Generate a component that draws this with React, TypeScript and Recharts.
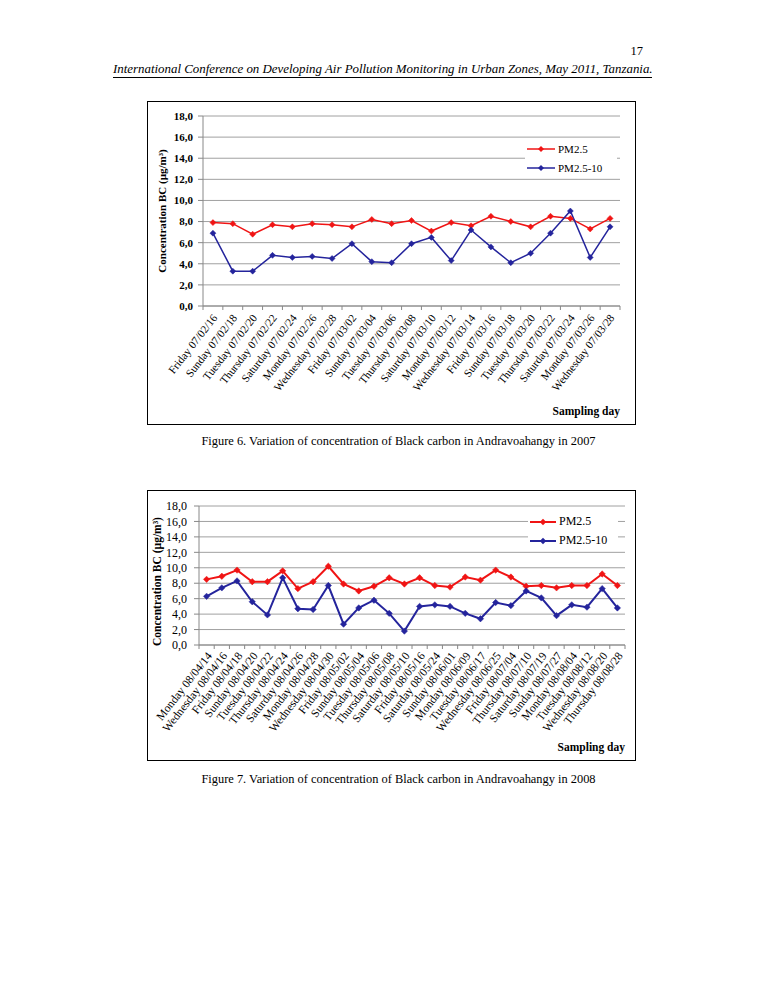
import React from 'react';
import { LineChart, Line, XAxis, YAxis, CartesianGrid, Legend, Label } from 'recharts';

const days2007 = [
  'Friday 07/02/16', 'Sunday 07/02/18', 'Tuesday 07/02/20', 'Thursday 07/02/22', 'Saturday 07/02/24',
  'Monday 07/02/26', 'Wednesday 07/02/28', 'Friday 07/03/02', 'Sunday 07/03/04', 'Tuesday 07/03/06',
  'Thursday 07/03/08', 'Saturday 07/03/10', 'Monday 07/03/12', 'Wednesday 07/03/14', 'Friday 07/03/16',
  'Sunday 07/03/18', 'Tuesday 07/03/20', 'Thursday 07/03/22', 'Saturday 07/03/24', 'Monday 07/03/26',
  'Wednesday 07/03/28',
];
const pm25_2007 = [7.9, 7.8, 6.8, 7.7, 7.5, 7.8, 7.7, 7.5, 8.2, 7.8, 8.1, 7.1, 7.9, 7.6, 8.5, 8.0, 7.5, 8.5, 8.3, 7.3, 8.3];
const pm2510_2007 = [6.9, 3.3, 3.3, 4.8, 4.6, 4.7, 4.5, 5.9, 4.2, 4.1, 5.9, 6.5, 4.3, 7.2, 5.6, 4.1, 5.0, 6.9, 9.0, 4.6, 7.5];

const days2008 = [
  'Monday 08/04/14', 'Wednesday 08/04/16', 'Friday 08/04/18', 'Sunday 08/04/20', 'Tuesday 08/04/22',
  'Thursday 08/04/24', 'Saturday 08/04/26', 'Monday 08/04/28', 'Wednesday 08/04/30', 'Friday 08/05/02',
  'Sunday 08/05/04', 'Tuesday 08/05/06', 'Thursday 08/05/08', 'Saturday 08/05/10', 'Friday 08/05/16',
  'Saturday 08/05/24', 'Sunday 08/06/01', 'Monday 08/06/09', 'Tuesday 08/06/17', 'Wednesday 08/06/25',
  'Friday 08/07/04', 'Thursday 08/07/10', 'Saturday 08/07/19', 'Sunday 08/07/27', 'Monday 08/08/04',
  'Tuesday 08/08/12', 'Wednesday 08/08/20', 'Thursday 08/08/28',
];
const pm25_2008 = [8.5, 8.9, 9.7, 8.2, 8.2, 9.6, 7.3, 8.2, 10.2, 7.9, 7.0, 7.6, 8.7, 7.9, 8.7, 7.7, 7.5, 8.8, 8.4, 9.7, 8.8, 7.6, 7.7, 7.4, 7.7, 7.7, 9.2, 7.7];
const pm2510_2008 = [6.3, 7.4, 8.3, 5.6, 3.9, 8.7, 4.7, 4.6, 7.7, 2.7, 4.8, 5.8, 4.1, 1.8, 5.0, 5.2, 5.0, 4.1, 3.4, 5.5, 5.1, 7.0, 6.1, 3.8, 5.2, 4.9, 7.3, 4.8];

const yTicks = [0, 2, 4, 6, 8, 10, 12, 14, 16, 18];
const seriesNames = ['PM2.5', 'PM2.5-10'];
const yTitle = 'Concentration BC (µg/m³)';
const xTitle = 'Sampling day';

const RED = '#f01414';
const BLUE = '#24249c';
const FONT = '"Liberation Serif", "Times New Roman", serif';

const data2007 = days2007.map((d, i) => ({ day: d, pm25: pm25_2007[i], pm2510: pm2510_2007[i] }));
const data2008 = days2008.map((d, i) => ({ day: d, pm25: pm25_2008[i], pm2510: pm2510_2008[i] }));

const fmt = (v: number) => v.toFixed(1).replace('.', ',');

const makeDiamond = (color: string, r: number) => (props: any) => {
  const { cx, cy, index } = props;
  if (cx == null || cy == null) return <g key={`n-${index}`} />;
  return (
    <polygon
      key={`d-${index}`}
      points={`${cx},${cy - r} ${cx + r},${cy} ${cx},${cy + r} ${cx - r},${cy}`}
      fill={color}
      stroke={color}
      strokeWidth={0.5}
    />
  );
};

const makeXTick = (n: number, plotW: number, fontSize: number, dx: number, dy: number) => (props: any) => {
  const { x, y, payload, index } = props;
  const bw = plotW / n;
  return (
    <g>
      <line x1={x - bw / 2} y1={y} x2={x - bw / 2} y2={y + 4} stroke="#888" />
      {index === n - 1 && <line x1={x + bw / 2} y1={y} x2={x + bw / 2} y2={y + 4} stroke="#888" />}
      <text
        transform={`translate(${x + dx},${y + dy}) rotate(-52)`}
        textAnchor="end"
        fontSize={fontSize}
        fontFamily={FONT}
        fill="#000"
      >
        {payload.value}
      </text>
    </g>
  );
};

const makeLegend = (fontSize: number, lineW: number, r: number, stroke: number, rowGap: number) => () => (
  <div style={{ background: '#fff', fontFamily: FONT, fontSize, color: '#000' }}>
    {[RED, BLUE].map((c, i) => (
      <div key={i} style={{ display: 'flex', alignItems: 'center', height: rowGap }}>
        <svg width={lineW + 4} height={12} style={{ display: 'block' }}>
          <line x1={2} y1={6} x2={lineW + 2} y2={6} stroke={c} strokeWidth={stroke} />
          <polygon points={`${lineW / 2 + 2},${6 - r} ${lineW / 2 + 2 + r},6 ${lineW / 2 + 2},${6 + r} ${lineW / 2 + 2 - r},6`} fill={c} />
        </svg>
        <span style={{ marginLeft: 1 }}>{seriesNames[i]}</span>
      </div>
    ))}
  </div>
);

type ChartCfg = {
  data: any[];
  width: number;
  height: number;
  margin: { top: number; right: number; left: number; bottom: number };
  yAxisW: number;
  xAxisH: number;
  tickFont: number;
  tickBold: boolean;
  tickMargin: number;
  xFont: number;
  xdx: number;
  xdy: number;
  yTitleX: number;
  yTitleDY: number;
  yTitleFont: number;
  xTitleDX: number;
  xTitleY: number;
  legendPos: { left: number; top: number; width: number };
  legendFont: number;
  legendLineW: number;
  legendRow: number;
  strokeW: number;
  dotR: number;
};

const Chart = ({ cfg }: { cfg: ChartCfg }) => {
  const plotW = cfg.width - cfg.margin.left - cfg.margin.right - cfg.yAxisW;
  const n = cfg.data.length;
  const half = plotW / n / 2;
  return (
    <LineChart width={cfg.width} height={cfg.height} data={cfg.data} margin={cfg.margin}>
      <CartesianGrid horizontal vertical={false} stroke="#a0a0a0" strokeWidth={1} />
      <XAxis
        dataKey="day"
        height={cfg.xAxisH}
        interval={0}
        padding={{ left: half, right: half }}
        tickLine={false}
        tickSize={0}
        tickMargin={0}
        axisLine={{ stroke: '#888' }}
        tick={makeXTick(n, plotW, cfg.xFont, cfg.xdx, cfg.xdy)}
      >
        <Label
          content={(p: any) => {
            const vb = p.viewBox;
            return (
              <text
                x={vb.x + vb.width + cfg.xTitleDX}
                y={cfg.xTitleY}
                textAnchor="end"
                fontFamily={FONT}
                fontWeight="bold"
                fontSize={11.5}
                fill="#000"
              >
                {xTitle}
              </text>
            );
          }}
        />
      </XAxis>
      <YAxis
        width={cfg.yAxisW}
        domain={[0, 18]}
        ticks={yTicks}
        interval={0}
        tickFormatter={fmt}
        tickSize={5}
        tickMargin={cfg.tickMargin}
        tickLine={{ stroke: '#888' }}
        axisLine={{ stroke: '#888' }}
        tick={{ fontSize: cfg.tickFont, fontFamily: FONT, fill: '#000', fontWeight: cfg.tickBold ? 'bold' : 'normal' }}
      >
        <Label
          content={(p: any) => {
            const vb = p.viewBox;
            const cy = vb.y + vb.height / 2 + cfg.yTitleDY;
            return (
              <text
                x={cfg.yTitleX}
                y={cy}
                transform={`rotate(-90, ${cfg.yTitleX}, ${cy})`}
                textAnchor="middle"
                dominantBaseline="central"
                fontFamily={FONT}
                fontWeight="bold"
                fontSize={cfg.yTitleFont}
                fill="#000"
              >
                {yTitle}
              </text>
            );
          }}
        />
      </YAxis>
      <Legend
        layout="vertical"
        align="center"
        verticalAlign="middle"
        wrapperStyle={{ position: 'absolute', left: cfg.legendPos.left, top: cfg.legendPos.top, width: cfg.legendPos.width, height: 'auto' }}
        content={makeLegend(cfg.legendFont, cfg.legendLineW, cfg.dotR, cfg.strokeW, cfg.legendRow)}
      />
      <Line
        type="linear"
        dataKey="pm25"
        name={seriesNames[0]}
        stroke={RED}
        strokeWidth={cfg.strokeW}
        dot={makeDiamond(RED, cfg.dotR)}
        activeDot={false}
        isAnimationActive={false}
      />
      <Line
        type="linear"
        dataKey="pm2510"
        name={seriesNames[1]}
        stroke={BLUE}
        strokeWidth={cfg.strokeW}
        dot={makeDiamond(BLUE, cfg.dotR)}
        activeDot={false}
        isAnimationActive={false}
      />
    </LineChart>
  );
};

const cfg1: ChartCfg = {
  data: data2007,
  width: 489,
  height: 324,
  margin: { top: 15, right: 16, left: 0, bottom: 0 },
  yAxisW: 56,
  xAxisH: 119,
  tickFont: 11,
  tickBold: true,
  tickMargin: 5,
  xFont: 11.2,
  xdx: 5,
  xdy: 12,
  yTitleX: 15,
  yTitleDY: 0,
  yTitleFont: 11,
  xTitleDX: 0,
  xTitleY: 314,
  legendPos: { left: 378, top: 38, width: 92 },
  legendFont: 11,
  legendLineW: 28,
  legendRow: 19,
  strokeW: 1.5,
  dotR: 3,
};

const cfg2: ChartCfg = {
  data: data2008,
  width: 489,
  height: 271,
  margin: { top: 16, right: 11, left: 0, bottom: 0 },
  yAxisW: 52,
  xAxisH: 116,
  tickFont: 12,
  tickBold: false,
  tickMargin: 7,
  xFont: 11.6,
  xdx: 6,
  xdy: 11,
  yTitleX: 10,
  yTitleDY: 6,
  yTitleFont: 11.5,
  xTitleDX: 0,
  xTitleY: 261,
  legendPos: { left: 381, top: 22, width: 90 },
  legendFont: 12,
  legendLineW: 26,
  legendRow: 19,
  strokeW: 2,
  dotR: 3.2,
};

const frame: React.CSSProperties = {
  position: 'absolute',
  left: 147,
  width: 489,
  border: '1.5px solid #000',
  boxSizing: 'border-box',
};

export default function App() {
  return (
    <div style={{ position: 'absolute', left: 0, top: 0, width: 765, height: 990, background: '#fff', fontFamily: FONT, color: '#000' }}>
      <div style={{ position: 'absolute', left: 600, top: 44, width: 43, textAlign: 'right', fontSize: 12.5 }}>17</div>
      <div style={{ position: 'absolute', left: 113, top: 62, width: 540, fontSize: 12.9, fontStyle: 'italic', whiteSpace: 'nowrap' }}>
        International Conference on Developing Air Pollution Monitoring in Urban Zones, May 2011, Tanzania.
      </div>
      <div style={{ position: 'absolute', left: 113, top: 77, width: 539, height: 1, background: '#000' }} />

      <div style={{ ...frame, top: 101, height: 324 }} />
      <div style={{ position: 'absolute', left: 147, top: 101 }}>
        <Chart cfg={cfg1} />
      </div>
      <div style={{ position: 'absolute', left: 0, top: 434, width: 797, textAlign: 'center', fontSize: 12.4 }}>
        Figure 6. Variation of concentration of Black carbon in Andravoahangy in 2007
      </div>

      <div style={{ ...frame, top: 490, height: 271 }} />
      <div style={{ position: 'absolute', left: 147, top: 490 }}>
        <Chart cfg={cfg2} />
      </div>
      <div style={{ position: 'absolute', left: 0, top: 772, width: 797, textAlign: 'center', fontSize: 12.4 }}>
        Figure 7. Variation of concentration of Black carbon in Andravoahangy in 2008
      </div>
    </div>
  );
}
